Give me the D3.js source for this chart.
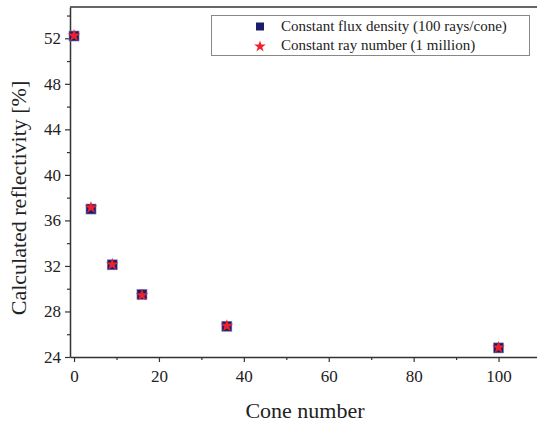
<!DOCTYPE html>
<html lang="en">
<head>
<meta charset="UTF-8">
<title>Calculated reflectivity vs cone number</title>
<style>
  * { margin: 0; padding: 0; }
  body { background: #fff; width: 537px; height: 425px; overflow: hidden; }
  svg text { font-family: "Liberation Serif", "Times New Roman", serif; fill: #222; }
  .axis path, .axis line { stroke: #333; }
</style>
</head>
<body>
<div id="chart"></div>
<script src="https://d3js.org/d3.v7.min.js"></script>
<script>
// data
const coneNumbers = [0, 4, 9, 16, 36, 100];
const fluxDensity = [52.2, 37.0, 32.1, 29.5, 26.7, 24.8];   // constant flux density (100 rays/cone)
const rayNumber   = [52.3, 37.2, 32.2, 29.5, 26.8, 24.9];   // constant ray number (1 million)
const xTicks = [0, 20, 40, 60, 80, 100];
const yTicks = [24, 28, 32, 36, 40, 44, 48, 52];
const seriesNames = ["Constant flux density (100 rays/cone)", "Constant ray number (1 million)"];

const W = 537, H = 425;
const margin = { top: 7, right: -4, bottom: 68, left: 70 };
const serif = "'Liberation Serif', 'Times New Roman', serif";

const svg = d3.select("#chart").append("svg")
    .attr("width", W)
    .attr("height", H)
    .attr("font-family", serif);

const x = d3.scaleLinear()
    .domain([-0.95, 110])
    .range([margin.left, W - margin.right]);

const y = d3.scaleLinear()
    .domain([24, 54.75])
    .range([H - margin.bottom, margin.top]);

// frame: top line
svg.append("line")
    .attr("x1", margin.left).attr("x2", W - margin.right)
    .attr("y1", margin.top).attr("y2", margin.top)
    .attr("stroke", "#333").attr("stroke-width", 1.5);

// minor ticks
const minorX = d3.range(10, 110, 20);
const minorY = d3.range(26, 55, 4);

svg.append("g")
    .attr("class", "axis")
    .attr("transform", `translate(0,${H - margin.bottom})`)
    .call(d3.axisBottom(x).tickValues(minorX).tickSize(3).tickFormat(""))
    .call(g => g.select(".domain").remove())
    .selectAll("line").attr("stroke-width", 1.2);

svg.append("g")
    .attr("class", "axis")
    .attr("transform", `translate(${margin.left},0)`)
    .call(d3.axisLeft(y).tickValues(minorY).tickSize(3).tickFormat(""))
    .call(g => g.select(".domain").remove())
    .selectAll("line").attr("stroke-width", 1.2);

// major axes
const xAxis = svg.append("g")
    .attr("class", "axis")
    .attr("transform", `translate(0,${H - margin.bottom})`)
    .call(d3.axisBottom(x).tickValues(xTicks).tickSize(5).tickSizeOuter(0).tickPadding(6))
    .attr("font-family", serif);
xAxis.select(".domain").attr("stroke-width", 1.5);
xAxis.selectAll("line").attr("stroke-width", 1.2);
xAxis.selectAll("text").attr("font-size", 17).attr("dy", "0.85em").attr("font-family", serif);

const yAxis = svg.append("g")
    .attr("class", "axis")
    .attr("transform", `translate(${margin.left},0)`)
    .call(d3.axisLeft(y).tickValues(yTicks).tickSize(5).tickSizeOuter(0).tickPadding(4))
    .attr("font-family", serif);
yAxis.select(".domain").attr("stroke-width", 1.5);
yAxis.selectAll("line").attr("stroke-width", 1.2);
yAxis.selectAll("text").attr("font-size", 17).attr("font-family", serif);

// axis titles
svg.append("text")
    .attr("x", 305).attr("y", 418)
    .attr("text-anchor", "middle")
    .attr("font-size", 22)
    .text("Cone number");

svg.append("text")
    .attr("transform", "translate(26,198) rotate(-90)")
    .attr("text-anchor", "middle")
    .attr("font-size", 22)
    .text("Calculated reflectivity [%]");

// data points
const navy = "#1b1f6b", red = "#f0202a";
const fluxData = coneNumbers.map((c, i) => ({ c, v: fluxDensity[i] }));
const rayData = coneNumbers.map((c, i) => ({ c, v: rayNumber[i] }));
const sq = 10;

svg.append("g").selectAll("rect")
    .data(fluxData)
    .join("rect")
    .attr("x", d => x(d.c) - sq / 2)
    .attr("y", d => y(d.v) - sq / 2)
    .attr("width", sq).attr("height", sq)
    .attr("fill", navy)
    .attr("stroke", "#7a7fb8").attr("stroke-width", 0.6);

const star = d3.symbol().type(d3.symbolStar).size(50);
svg.append("g").selectAll("path")
    .data(rayData)
    .join("path")
    .attr("transform", d => `translate(${x(d.c)},${y(d.v) + 0.8})`)
    .attr("d", star)
    .attr("fill", red);

// legend
const legend = svg.append("g");
legend.append("rect")
    .attr("x", 211.5).attr("y", 15.5)
    .attr("width", 318).attr("height", 40)
    .attr("fill", "#fff")
    .attr("stroke", "#888").attr("stroke-width", 1);

legend.append("rect")
    .attr("x", 256).attr("y", 22.5)
    .attr("width", 8).attr("height", 8)
    .attr("fill", navy);
legend.append("path")
    .attr("transform", "translate(260,46.5)")
    .attr("d", d3.symbol().type(d3.symbolStar).size(42))
    .attr("fill", red);

legend.selectAll("text.lbl")
    .data(seriesNames)
    .join("text")
    .attr("class", "lbl")
    .attr("x", 281)
    .attr("y", (d, i) => 31 + i * 19)
    .attr("font-size", 15)
    .text(d => d);
</script>
</body>
</html>
